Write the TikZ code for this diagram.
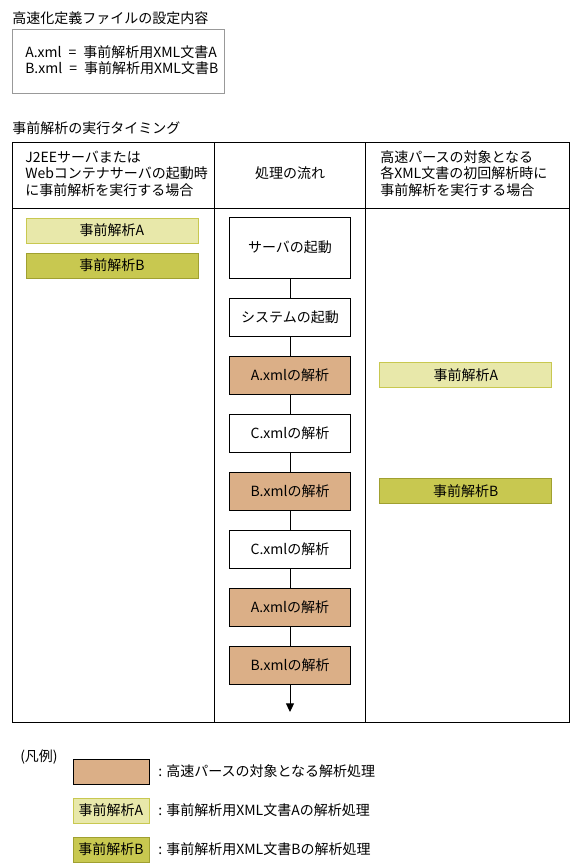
\documentclass[tikz,border=0pt]{standalone}
\usepackage{fontspec}
\setmainfont{Noto Sans CJK JP}
\usetikzlibrary{arrows.meta, positioning}
\usepackage{xcolor}

\definecolor{parsefill}{HTML}{DBAF87}
\definecolor{preAfill}{HTML}{E8E8AA}
\definecolor{preAline}{HTML}{C8C850}
\definecolor{preBfill}{HTML}{C8C850}
\definecolor{preBline}{HTML}{A0A030}
\definecolor{defline}{HTML}{999999}

\begin{document}
\begin{tikzpicture}[
    x=0.75pt, y=-0.75pt,
    node distance=15pt,
    font=\fontsize{10.5}{12.4}\selectfont,
    flowbox/.style={draw, fill=white, minimum width=90.75pt, minimum height=28.5pt, inner sep=0pt, outer sep=0pt, line width=0.75pt},
    parsebox/.style={flowbox, fill=parsefill},
    preA/.style={draw=preAline, fill=preAfill, minimum width=129pt, minimum height=18.75pt, inner sep=0pt, outer sep=0pt, line width=0.75pt},
    preB/.style={preA, draw=preBline, fill=preBfill},
    lefttext/.style={anchor=west, align=left, inner sep=0pt},
    arrow/.style={draw, line width=0.75pt, -{Triangle[width=6pt,length=6.5pt]}}
]
\useasboundingbox (0,0) rectangle (580,863);

% definition file
\node[lefttext] (deftitle) at (12,18) {高速化定義ファイルの設定内容};
\draw[defline, line width=0.75pt] (12,30) rectangle (224,94);
\node[lefttext] (defbody) at (25,60) {A.xml\enspace{}=\enspace{}事前解析用XML文書A\\B.xml\enspace{}=\enspace{}事前解析用XML文書B};

% timing table
\node[lefttext] (tabtitle) at (12,128) {事前解析の実行タイミング};
\draw[line width=0.75pt] (12,143) rectangle (569,722);
\draw[line width=0.75pt] (12,208) -- (569,208);
\draw[line width=0.75pt] (214,143) -- (214,722);
\draw[line width=0.75pt] (365,143) -- (365,722);

\node[lefttext] (head1) at (25,173.5) {J2EEサーバまたは\\Webコンテナサーバの起動時\\に事前解析を実行する場合};
\node (head2) at (290,173.5) {処理の流れ};
\node[lefttext] (head3) at (380,173.5) {高速パースの対象となる\\各XML文書の初回解析時に\\事前解析を実行する場合};

% server start column
\node[preA] (leftA) at (112,230.5) {事前解析A};
\node[preB, below=7.5pt of leftA] (leftB) {事前解析B};

% flow
\node[flowbox, minimum height=45.75pt] (server) at (290,247.5) {サーバの起動};
\node[flowbox, below=of server] (system) {システムの起動};
\node[parsebox, below=of system] (axml1) {A.xmlの解析};
\node[flowbox, below=of axml1] (cxml1) {C.xmlの解析};
\node[parsebox, below=of cxml1] (bxml1) {B.xmlの解析};
\node[flowbox, below=of bxml1] (cxml2) {C.xmlの解析};
\node[parsebox, below=of cxml2] (axml2) {A.xmlの解析};
\node[parsebox, below=of axml2] (bxml2) {B.xmlの解析};
\coordinate (flowend) at (290,712);

\draw[line width=0.75pt] (server) -- (system);
\draw[line width=0.75pt] (system) -- (axml1);
\draw[line width=0.75pt] (axml1) -- (cxml1);
\draw[line width=0.75pt] (cxml1) -- (bxml1);
\draw[line width=0.75pt] (bxml1) -- (cxml2);
\draw[line width=0.75pt] (cxml2) -- (axml2);
\draw[line width=0.75pt] (axml2) -- (bxml2);
\draw[arrow] (bxml2) -- (flowend);

% first parse column
\node[preA, right=22pt of axml1] (rightA) {事前解析A};
\node[preB, right=22pt of bxml1] (rightB) {事前解析B};

% legend
\node[lefttext] (legtitle) at (20,757) {(凡例)};
\node[parsebox, minimum width=57pt, minimum height=18.75pt] (legparse) at (111,771.5) {};
\node[preA, minimum width=57pt, below=10.5pt of legparse] (legA) {事前解析A};
\node[preB, minimum width=57pt, below=10.5pt of legA] (legB) {事前解析B};
\node[lefttext, right=6.75pt of legparse] (legparsetext) {: 高速パースの対象となる解析処理};
\node[lefttext, right=6.75pt of legA] (legAtext) {: 事前解析用XML文書Aの解析処理};
\node[lefttext, right=6.75pt of legB] (legBtext) {: 事前解析用XML文書Bの解析処理};

\end{tikzpicture}
\end{document}
